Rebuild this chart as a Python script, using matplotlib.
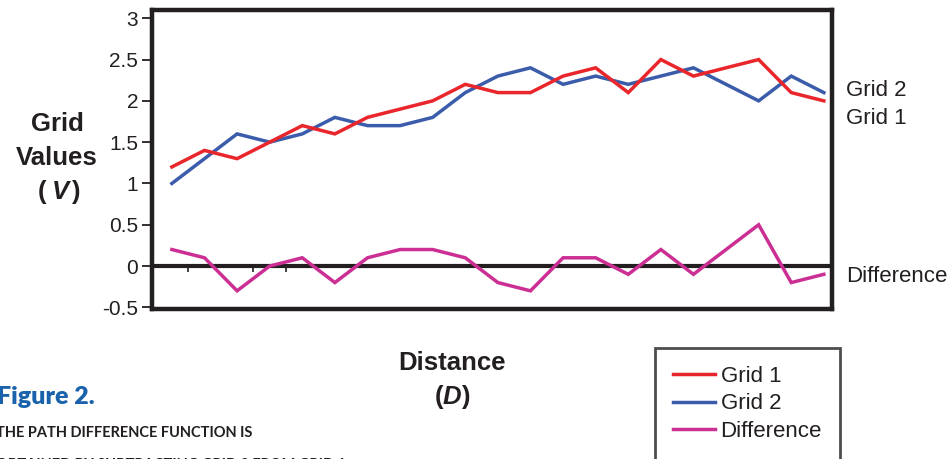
import matplotlib
matplotlib.use("Agg")
import matplotlib.pyplot as plt
import numpy as np

plt.rcParams['font.family'] = ['Liberation Sans', 'DejaVu Sans']
plt.rcParams['axes.unicode_minus'] = False

# ---- data ----
distance = list(range(21))
grid1 = [1.2, 1.4, 1.3, 1.5, 1.7, 1.6, 1.8, 1.9, 2.0, 2.2, 2.1, 2.1, 2.3, 2.4, 2.1, 2.5, 2.3, 2.4, 2.5, 2.1, 2.0]
grid2 = [1.0, 1.3, 1.6, 1.5, 1.6, 1.8, 1.7, 1.7, 1.8, 2.1, 2.3, 2.4, 2.2, 2.3, 2.2, 2.3, 2.4, 2.2, 2.0, 2.3, 2.1]
difference = [0.2, 0.1, -0.3, 0.0, 0.1, -0.2, 0.1, 0.2, 0.2, 0.1, -0.2, -0.3, 0.1, 0.1, -0.1, 0.2, -0.1, 0.2, 0.5, -0.2, -0.1]
yticks = [-0.5, 0, 0.5, 1, 1.5, 2, 2.5, 3]
ytick_labels = ["-0.5", "0", "0.5", "1", "1.5", "2", "2.5", "3"]
zero_ticks = [0.5, 2.5, 3.5]

RED = "#e8262b"
BLUE = "#3b5cab"
PINK = "#cc2f93"
DARK = "#231f20"
CAP_BLUE = "#1a63ac"

W, H = 952, 459
fig = plt.figure(figsize=(W / 100, H / 100), dpi=100)

def fx(x):
    return x / W

def fy(y):
    return 1 - y / H

ax = fig.add_axes([fx(152), fy(309), fx(832) - fx(152), fy(10) - fy(309)])
ax.plot(distance, grid1, color=RED, lw=2.5, label="Grid 1", solid_joinstyle='miter', zorder=3)
ax.plot(distance, grid2, color=BLUE, lw=2.5, label="Grid 2", solid_joinstyle='miter', zorder=2)
ax.plot(distance, difference, color=PINK, lw=2.5, label="Difference", solid_joinstyle='miter', zorder=3)
ax.axhline(0, color=DARK, lw=3, zorder=1)
ax.vlines(zero_ticks, -0.07, 0, color=DARK, lw=1.2, zorder=1)

ax.set_xlim(-0.61, 20.25)
ax.set_ylim(-0.52, 3.1)
ax.set_yticks(yticks)
ax.set_yticklabels(ytick_labels)
ax.set_xticks([])
ax.tick_params(axis='y', direction='out', length=7, width=1.3, color=DARK,
               labelsize=15, labelcolor=DARK, pad=3)
for s in ax.spines.values():
    s.set_linewidth(3.2)
    s.set_color(DARK)

# axis labels
ylab_kw = dict(fontsize=18.5, fontweight='bold', color=DARK, ha='center', va='center')
fig.text(fx(57), fy(124), "Grid", **ylab_kw)
fig.text(fx(57), fy(158), "Values", **ylab_kw)
fig.text(fx(46), fy(192), "(", ha='right', va='center', fontsize=18.5, fontweight='bold', color=DARK)
fig.text(fx(60), fy(192), "V", ha='center', va='center', fontsize=18.5, fontweight='bold',
         fontstyle='italic', color=DARK)
fig.text(fx(71), fy(192), ")", ha='left', va='center', fontsize=18.5, fontweight='bold', color=DARK)

fig.text(fx(452), fy(363), "Distance", **ylab_kw)
fig.text(fx(443), fy(397), "(", ha='right', va='center', fontsize=18.5, fontweight='bold', color=DARK)
fig.text(fx(452), fy(397), "D", ha='center', va='center', fontsize=18.5, fontweight='bold',
         fontstyle='italic', color=DARK)
fig.text(fx(461), fy(397), ")", ha='left', va='center', fontsize=18.5, fontweight='bold', color=DARK)

# right-side series labels
rkw = dict(fontsize=16, color=DARK, ha='left', va='center')
fig.text(fx(846), fy(91), "Grid 2", **rkw)
fig.text(fx(846), fy(118), "Grid 1", **rkw)
fig.text(fx(846), fy(277), "Difference", **rkw)

# legend
handles, labels = ax.get_legend_handles_labels()
leg = fig.legend(handles, labels, loc='upper left', bbox_to_anchor=(fx(655), fy(348)),
                 frameon=True, fancybox=False, fontsize=16, handlelength=1.9,
                 handletextpad=0.25, labelspacing=0.3, borderpad=0.8, borderaxespad=0)
leg.get_frame().set_edgecolor(DARK)
leg.get_frame().set_linewidth(2)
for t in leg.get_texts():
    t.set_color(DARK)

# caption
fig.text(fx(-3), fy(397), "Figure 2.", fontsize=18, fontweight='heavy', color=CAP_BLUE,
         family=['Lato', 'DejaVu Sans'], ha='left', va='center')
fig.text(fx(-4), fy(433), "THE PATH DIFFERENCE FUNCTION IS", fontsize=10.5, fontweight='bold',
         color=DARK, family=['Lato', 'DejaVu Sans'], ha='left', va='center')
fig.text(fx(-4), fy(465), "OBTAINED BY SUBTRACTING GRID 2 FROM GRID 1", fontsize=10.5, fontweight='bold',
         color=DARK, family=['Lato', 'DejaVu Sans'], ha='left', va='center')

fig.savefig("out.png", dpi=100)
